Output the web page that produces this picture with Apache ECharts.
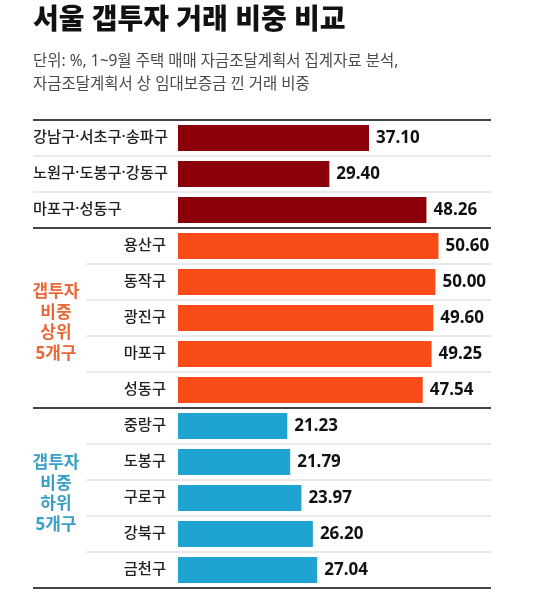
<!DOCTYPE html>
<html><head><meta charset="utf-8">
<script src="https://cdn.jsdelivr.net/npm/echarts@6/dist/echarts.min.js"></script>
<style>html,body{margin:0;padding:0;background:#fff}#c{width:560px;height:601px}</style>
</head><body><div id="c"></div>
<script>
var titleText = '서울 갭투자 거래 비중 비교';
var subtitleLines = ['단위: %, 1~9월 주택 매매 자금조달계획서 집계자료 분석,', '자금조달계획서 상 임대보증금 낀 거래 비중'];
var groupNames = ['group', 'top', 'bottom'];
var groupLabels = ['', '갭투자\n비중\n상위\n5개구', '갭투자\n비중\n하위\n5개구'];
var categories = ['강남구·서초구·송파구', '노원구·도봉구·강동구', '마포구·성동구',
  '용산구', '동작구', '광진구', '마포구', '성동구',
  '중랑구', '도봉구', '구로구', '강북구', '금천구'];
var values = [37.10, 29.40, 48.26, 50.60, 50.00, 49.60, 49.25, 47.54, 21.23, 21.79, 23.97, 26.20, 27.04];
var groupOf = [0, 0, 0, 1, 1, 1, 1, 1, 2, 2, 2, 2, 2];
var barColors = ['#8b0009', '#fa4c18', '#1fa4d2'];
var labelColors = ['#000', '#e8683a', '#3a9fc4'];

var FONT = '"Noto Sans", "Noto Sans CJK KR", sans-serif';
var chart = echarts.init(document.getElementById('c'));

var option = {
  animation: false,
  backgroundColor: '#fff',
  grid: { left: 178, right: 69, top: 120, height: 468 },
  xAxis: { type: 'value', min: 0, max: 60.8, show: false },
  yAxis: {
    type: 'category', data: categories, inverse: true,
    axisLine: { show: false }, axisTick: { show: false },
    axisLabel: {
      color: '#222', fontSize: 15.3, fontFamily: FONT, fontWeight: 500, margin: 12,
      formatter: function (v, i) { return groupOf[i] === 0 ? '{l|' + v + '}' : v; },
      rich: { l: { width: 133, align: 'left', color: '#222', fontSize: 15.3, fontFamily: FONT, fontWeight: 500 } }
    }
  },
  series: [{
    type: 'bar', barWidth: 26,
    data: values.map(function (v, i) { return { value: v, itemStyle: { color: barColors[groupOf[i]] } }; }),
    label: {
      show: true, position: 'right', distance: 7,
      color: '#111', fontSize: 17, fontWeight: 'bold', fontFamily: FONT,
      formatter: function (p) { return p.value.toFixed(2); }
    }
  }]
};
chart.setOption(option);

function drawDecor() {
  var y0 = chart.convertToPixel({ yAxisIndex: 0 }, categories[0]);
  var y1 = chart.convertToPixel({ yAxisIndex: 0 }, categories[1]);
  var band = y1 - y0;
  var L = 33, R = 491, Lin = 86;
  var els = [];
  els.push({ type: 'text', left: 33, top: 7, style: { text: titleText, fontSize: 28, fontWeight: 900, fontFamily: FONT, fill: '#111' } });
  els.push({ type: 'text', left: 33, top: 50, style: { text: subtitleLines.join('\n'), fontSize: 15.5, lineHeight: 23, fontFamily: FONT, fill: '#4a4a4a' } });
  for (var i = 0; i <= categories.length; i++) {
    var y = y0 - band / 2 + i * band;
    var thick = (i === 0 || i === categories.length || groupOf[i] !== groupOf[i - 1]);
    var x0 = thick ? L : (groupOf[i] === 0 ? L : Lin);
    els.push({ type: 'line', shape: { x1: x0, y1: y, x2: R, y2: y },
      style: { stroke: thick ? '#444' : '#d4d4d4', lineWidth: thick ? 2 : 1 }, z: 10 });
  }
  for (var g = 1; g < groupNames.length; g++) {
    var idx = [];
    for (var k = 0; k < categories.length; k++) if (groupOf[k] === g) idx.push(k);
    var mid = (chart.convertToPixel({ yAxisIndex: 0 }, categories[idx[0]]) + chart.convertToPixel({ yAxisIndex: 0 }, categories[idx[idx.length - 1]])) / 2;
    els.push({ type: 'text', x: 56, y: mid + (g === 1 ? 5 : -4), style: {
      text: groupLabels[g], fontSize: 17, lineHeight: 20.5, fontWeight: 'bold', fontFamily: FONT,
      fill: labelColors[g], align: 'center', verticalAlign: 'middle' } });
  }
  chart.setOption({ graphic: { elements: els } });
}
drawDecor();
</script></body></html>
